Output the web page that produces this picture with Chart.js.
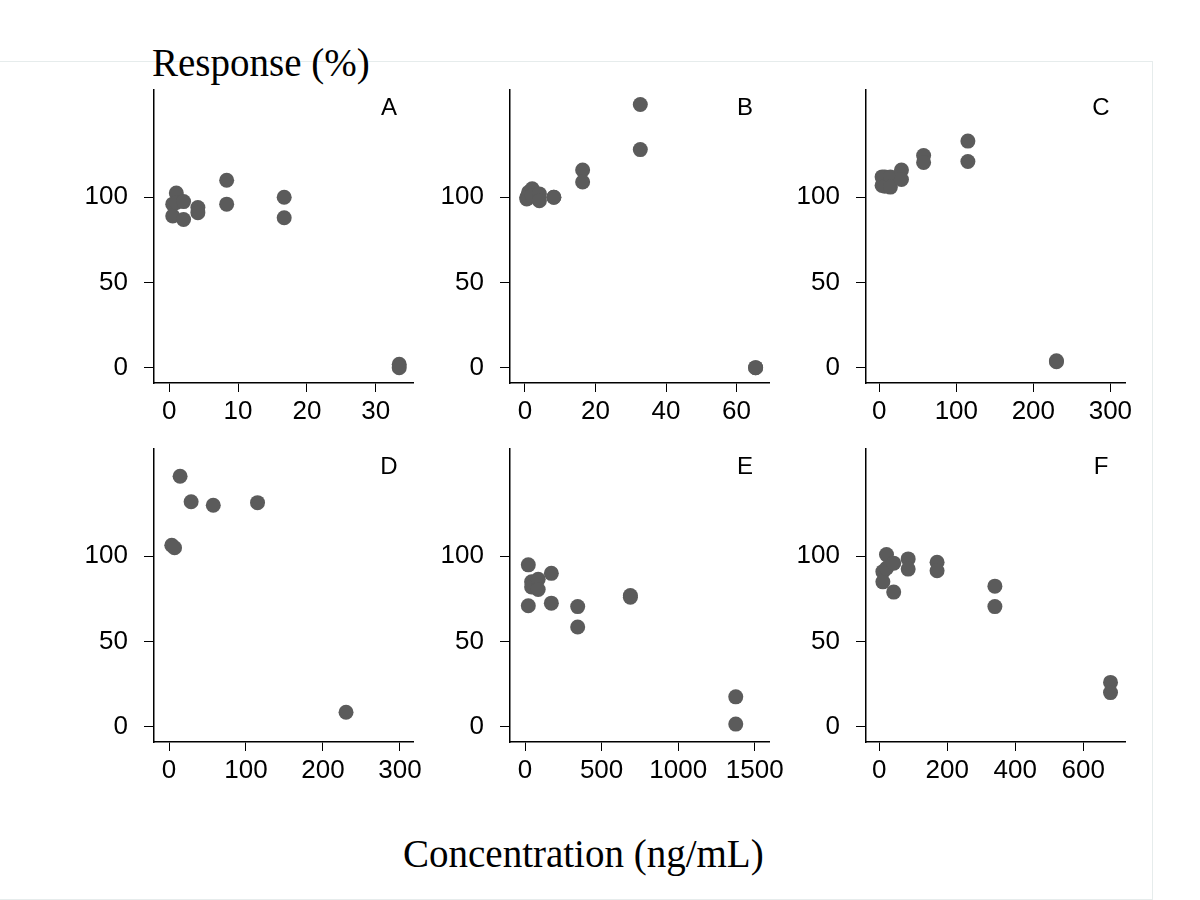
<!DOCTYPE html>
<html>
<head>
<meta charset="utf-8">
<script src="https://cdn.jsdelivr.net/npm/chart.js@4/dist/chart.umd.min.js"></script>
<style>
  body { margin: 0; background: #fff; width: 1200px; height: 900px; position: relative; overflow: hidden; }
  .frame { position: absolute; left: 0; top: 61px; width: 1152px; height: 837px; border: 1px solid #e6ecec; border-left: none; }
  canvas { position: absolute; pointer-events: none; }
  .title { position: absolute; font-family: "Liberation Serif", "Times New Roman", serif; font-size: 39px; color: #000; white-space: nowrap; line-height: 1; }
</style>
</head>
<body>
<div class="frame"></div>
<div class="title" id="ytitle" style="left:152px; top:43px;">Response (%)</div>
<div class="title" id="xtitle" style="left:403px; top:834px;">Concentration (ng/mL)</div>

<canvas id="cA"></canvas>
<canvas id="cB"></canvas>
<canvas id="cC"></canvas>
<canvas id="cD"></canvas>
<canvas id="cE"></canvas>
<canvas id="cF"></canvas>

<script>
// values (concentration in ng/mL, response in %)
const concA = [0.52, 0.52, 1.04, 1.04, 2.09, 2.09, 4.17, 4.17, 8.35, 8.35, 16.7, 16.7, 33.4, 33.4];
const respA = [96, 89, 102.5, 97, 97.5, 87, 94, 91, 110, 96, 100, 88, 2, 0];

const concB = [0.51, 0.51, 1.02, 1.02, 2.04, 2.04, 4.09, 4.09, 8.18, 8.18, 16.35, 16.35, 32.7, 32.7, 65.4, 65.4];
const respB = [100, 99, 100, 103, 105, 101, 102, 98, 100, 100, 116, 109, 154.5, 128, 0, 0];

const concC = [3.6, 3.6, 7.2, 7.2, 14.4, 14.4, 28.75, 28.75, 57.5, 57.5, 115, 115, 230, 230];
const respC = [112, 107, 112, 106.5, 112, 106, 116, 110.5, 124.5, 120.5, 133, 121, 4, 3.5];

const concD = [3.6, 7.2, 14.4, 28.75, 57.5, 115, 230];
const respD = [106.5, 105, 147, 132, 130, 131.5, 8.5];

const concE = [21.5, 21.5, 43, 43, 86, 86, 172, 172, 344, 344, 688, 688, 1376, 1376];
const respE = [95, 71, 85, 82, 86.5, 80.5, 90, 72.5, 70.5, 58.5, 77, 76, 17.5, 1.5];

const concF = [10.6, 10.6, 21.25, 21.25, 42.5, 42.5, 85, 85, 170, 170, 340, 340, 680, 680];
const respF = [91, 85, 101, 93, 96, 79, 98.5, 92.5, 96.5, 91.5, 82.5, 70.5, 26, 20];

const yTicks = [0, 50, 100];
const xTicksA = [0, 10, 20, 30];
const xTicksB = [0, 20, 40, 60];
const xTicksC = [0, 100, 200, 300];
const xTicksD = [0, 100, 200, 300];
const xTicksE = [0, 500, 1000, 1500];
const xTicksF = [0, 200, 400, 600];

const panels = [
  { id: "cA", label: "A", x: concA, y: respA, ticks: xTicksA, xmin: -2.2, xmax: 35.4, left: 154, top: 90 },
  { id: "cB", label: "B", x: concB, y: respB, ticks: xTicksB, xmin: -4.25, xmax: 69.2, left: 510, top: 90 },
  { id: "cC", label: "C", x: concC, y: respC, ticks: xTicksC, xmin: -17.3, xmax: 319, left: 866, top: 90 },
  { id: "cD", label: "D", x: concD, y: respD, ticks: xTicksD, xmin: -19.5, xmax: 317, left: 154, top: 449 },
  { id: "cE", label: "E", x: concE, y: respE, ticks: xTicksE, xmin: -98, xmax: 1593, left: 510, top: 449 },
  { id: "cF", label: "F", x: concF, y: respF, ticks: xTicksF, xmin: -39, xmax: 722.6, left: 866, top: 449 }
];

// plot area size and the space kept around it on each canvas
const AREA_W = 259, AREA_H = 293;
const Y_AXIS_W = 100, X_AXIS_H = 60, PAD_TOP = 10, PAD_RIGHT = 30;
const tickFont = { family: "'Liberation Sans', Arial, sans-serif", size: 26 };

const panelLetter = {
  id: "panelLetter",
  afterDraw(chart, args, opts) {
    const { ctx, chartArea } = chart;
    ctx.save();
    ctx.font = "24px 'Liberation Sans', Arial, sans-serif";
    ctx.fillStyle = "#000";
    ctx.textAlign = "center";
    ctx.textBaseline = "middle";
    ctx.fillText(opts.text, chartArea.right - 24, chartArea.top + 18);
    ctx.restore();
  }
};

panels.forEach(p => {
  const canvas = document.getElementById(p.id);
  canvas.width = AREA_W + Y_AXIS_W + PAD_RIGHT;
  canvas.height = AREA_H + X_AXIS_H + PAD_TOP;
  canvas.style.left = (p.left - Y_AXIS_W) + "px";
  canvas.style.top = (p.top - PAD_TOP) + "px";

  new Chart(canvas.getContext("2d"), {
    type: "scatter",
    data: {
      datasets: [{
        data: p.x.map((v, i) => ({ x: v, y: p.y[i] })),
        backgroundColor: "#5b5b5b",
        borderWidth: 0,
        pointRadius: 7.5,
        pointHoverRadius: 7.5,
        clip: false
      }]
    },
    options: {
      responsive: false,
      animation: false,
      events: [],
      layout: { padding: { top: PAD_TOP, right: PAD_RIGHT, left: 0, bottom: 0 } },
      plugins: {
        legend: { display: false },
        tooltip: { enabled: false },
        panelLetter: { text: p.label }
      },
      scales: {
        x: {
          type: "linear",
          min: p.xmin,
          max: p.xmax,
          afterBuildTicks: axis => { axis.ticks = p.ticks.map(v => ({ value: v })); },
          afterFit: axis => {
            axis.height = X_AXIS_H;
            axis.paddingLeft = 0;
            axis.paddingRight = 0;
          },
          grid: { drawOnChartArea: false, drawTicks: true, tickLength: 9, color: "#000", lineWidth: 1 },
          border: { display: true, color: "#000", width: 1.5 },
          ticks: { color: "#000", font: tickFont, padding: 4, maxRotation: 0, autoSkip: false, callback: v => String(v) }
        },
        y: {
          type: "linear",
          min: -9,
          max: 163,
          afterBuildTicks: axis => { axis.ticks = yTicks.map(v => ({ value: v })); },
          afterFit: axis => {
            axis.width = Y_AXIS_W;
            axis.paddingTop = 0;
            axis.paddingBottom = 0;
          },
          grid: { drawOnChartArea: false, drawTicks: true, tickLength: 10, color: "#000", lineWidth: 1 },
          border: { display: true, color: "#000", width: 1.5 },
          ticks: { color: "#000", font: tickFont, padding: 16, callback: v => String(v) }
        }
      }
    },
    plugins: [panelLetter]
  });
});
</script>
</body>
</html>
